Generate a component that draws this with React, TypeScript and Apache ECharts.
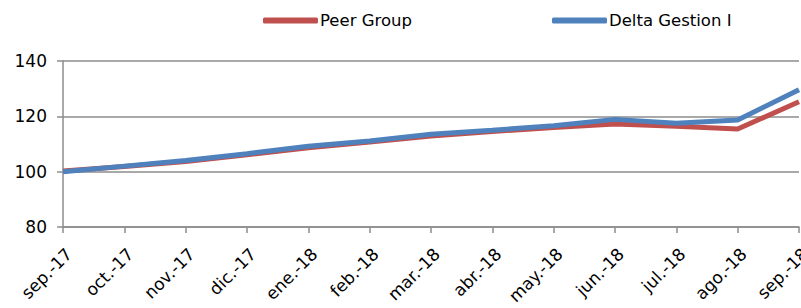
import React, { useEffect, useRef } from "react";
import * as echarts from "echarts";

const categories = [
  "sep.-17", "oct.-17", "nov.-17", "dic.-17", "ene.-18", "feb.-18", "mar.-18",
  "abr.-18", "may.-18", "jun.-18", "jul.-18", "ago.-18", "sep.-18",
];
const peerGroup = [100.2, 101.9, 103.7, 106.1, 108.6, 110.7, 112.9, 114.5, 116.0, 117.2, 116.4, 115.4, 125.3];
const deltaGestion = [100.0, 102.0, 104.0, 106.5, 109.2, 111.1, 113.5, 115.0, 116.6, 118.9, 117.5, 118.7, 129.6];
const yTicks = { min: 80, max: 140, interval: 20 };

const FONT = "DejaVu Sans";
const RED = "#C0504D";
const BLUE = "#4F81BD";
const GRID = "#8C8C8C";

export default function App() {
  const ref = useRef<HTMLDivElement>(null);
  useEffect(() => {
    if (!ref.current) return;
    const chart = echarts.init(ref.current, undefined, { renderer: "svg" });
    const legendBase = {
      top: 7,
      icon: "roundRect",
      itemWidth: 55,
      itemHeight: 6,
      itemGap: 0,
      textStyle: { fontFamily: FONT, fontSize: 16.5, color: "#000", padding: [0, 0, 0, -3] },
    };
    chart.setOption({
      animation: false,
      backgroundColor: "#ffffff",
      textStyle: { fontFamily: FONT },
      legend: [
        { ...legendBase, data: ["Peer Group"], left: 258 },
        { ...legendBase, data: ["Delta Gestion I"], left: 547 },
      ],
      grid: { left: 63, right: 2, top: 61, bottom: 81, containLabel: false, outerBoundsMode: "none" },
      xAxis: {
        type: "category",
        data: categories,
        boundaryGap: false,
        axisLine: { lineStyle: { color: GRID, width: 1.5 } },
        axisTick: { show: true, length: 6, lineStyle: { color: GRID, width: 1.5 } },
        axisLabel: {
          rotate: 45,
          interval: 0,
          margin: 18,
          verticalAlign: "top",
          fontFamily: FONT,
          fontSize: 17,
          color: "#000",
          hideOverlap: false,
        },
      },
      yAxis: {
        type: "value",
        min: yTicks.min,
        max: yTicks.max,
        interval: yTicks.interval,
        axisLine: { show: true, lineStyle: { color: GRID, width: 1.5 } },
        axisTick: { show: true, length: 6, lineStyle: { color: GRID, width: 1.5 } },
        splitLine: { show: true, lineStyle: { color: GRID, width: 1.5 } },
        axisLabel: { margin: 16, fontFamily: FONT, fontSize: 17, color: "#000" },
      },
      series: [
        {
          name: "Peer Group",
          type: "line",
          data: peerGroup,
          showSymbol: false,
          symbol: "none",
          lineStyle: { color: RED, width: 5 },
          itemStyle: { color: RED },
          z: 2,
        },
        {
          name: "Delta Gestion I",
          type: "line",
          data: deltaGestion,
          showSymbol: false,
          symbol: "none",
          lineStyle: { color: BLUE, width: 5 },
          itemStyle: { color: BLUE },
          z: 3,
        },
      ],
    });
    return () => chart.dispose();
  }, []);
  return (
    <div style={{ position: "fixed", left: 0, top: 0, width: 801, height: 308 }}>
      <div ref={ref} style={{ width: 801, height: 308 }} />
    </div>
  );
}
